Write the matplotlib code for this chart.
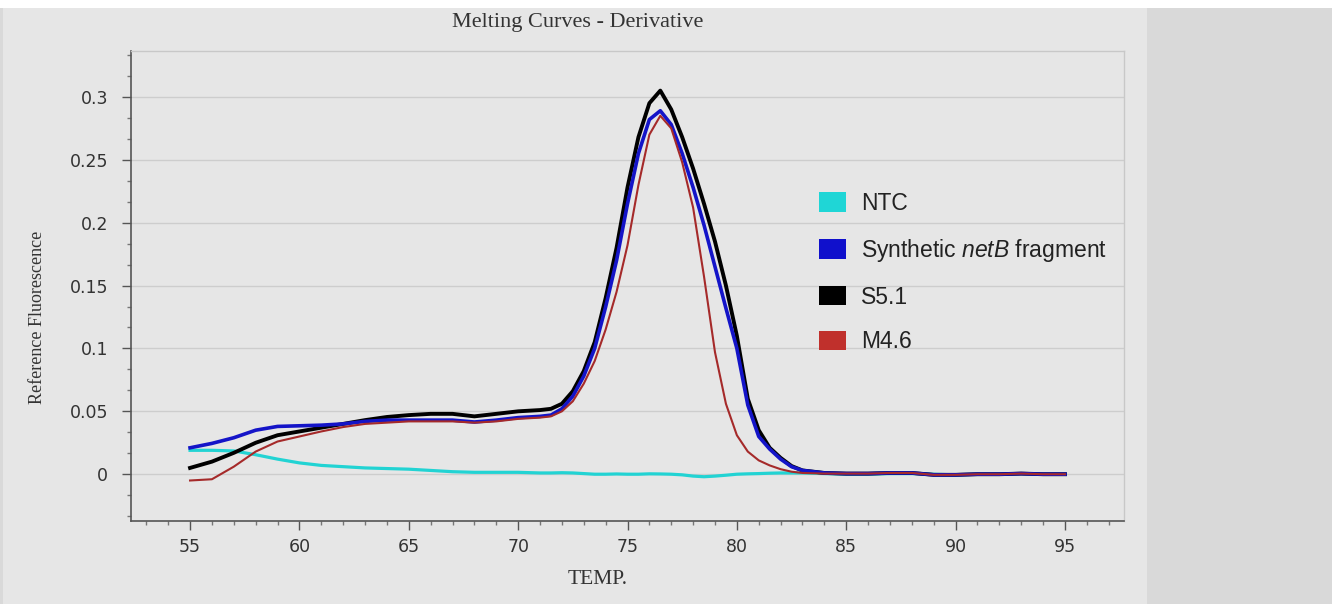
import matplotlib.pyplot as plt
from matplotlib.patches import Patch, Rectangle

plt.rcParams['mathtext.fontset'] = 'custom'
plt.rcParams['mathtext.rm'] = 'Liberation Sans'
plt.rcParams['mathtext.it'] = 'Liberation Sans:italic'

# temperature grid (deg C)
temp = [55, 56, 57, 58, 59, 60, 61, 62, 63, 64, 65, 66, 67, 68, 69, 70, 71, 71.5,
        72, 72.5, 73, 73.5, 74, 74.5, 75, 75.5, 76, 76.5, 77, 77.5, 78, 78.5,
        79, 79.5, 80, 80.5, 81, 81.5, 82, 82.5, 83, 84, 85, 86, 87, 88, 89,
        90, 91, 92, 93, 94, 95]

ntc = [0.019, 0.019, 0.0185, 0.0155, 0.012, 0.009, 0.007, 0.006, 0.005, 0.0045,
       0.004, 0.003, 0.002, 0.0015, 0.0015, 0.0015, 0.001, 0.001,
       0.0012, 0.001, 0.0005, 0.0, 0.0, 0.0002, 0.0, 0.0, 0.0003, 0.0002, 0.0, -0.0005,
       -0.0015, -0.002, -0.0015, -0.0008, 0.0, 0.0003, 0.0005, 0.0008, 0.001, 0.001,
       0.001, 0.0005, 0.0, 0.0, 0.0005, 0.0005, 0.0, -0.0005, 0.0, 0.0, 0.0005, 0.0, 0.0]

netb = [0.021, 0.0245, 0.029, 0.035, 0.038, 0.0385, 0.039, 0.040, 0.042, 0.043,
        0.043, 0.043, 0.043, 0.0415, 0.043, 0.045, 0.046, 0.047,
        0.052, 0.062, 0.078, 0.100, 0.133, 0.170, 0.215, 0.255, 0.282, 0.289, 0.278, 0.255,
        0.228, 0.198, 0.165, 0.132, 0.100, 0.055, 0.030, 0.020, 0.012, 0.006,
        0.003, 0.001, 0.0005, 0.0005, 0.001, 0.001, -0.0005, -0.0005, 0.0, 0.0, 0.0005, 0.0, 0.0]

s51 = [0.005, 0.010, 0.017, 0.025, 0.031, 0.034, 0.037, 0.040, 0.043, 0.0455,
       0.047, 0.048, 0.048, 0.046, 0.048, 0.050, 0.051, 0.052,
       0.056, 0.066, 0.082, 0.105, 0.140, 0.180, 0.228, 0.268, 0.295, 0.305, 0.290, 0.268,
       0.243, 0.215, 0.185, 0.150, 0.110, 0.060, 0.035, 0.021, 0.013, 0.0065,
       0.003, 0.001, 0.0005, 0.0005, 0.001, 0.001, -0.0005, -0.0005, 0.0, 0.0, 0.0005, 0.0, 0.0]

m46 = [-0.005, -0.004, 0.006, 0.018, 0.026, 0.030, 0.034, 0.0375, 0.040, 0.041,
       0.042, 0.042, 0.042, 0.041, 0.042, 0.044, 0.045, 0.046,
       0.050, 0.058, 0.072, 0.090, 0.115, 0.145, 0.182, 0.230, 0.270, 0.285, 0.275, 0.248,
       0.212, 0.157, 0.097, 0.056, 0.031, 0.018, 0.011, 0.007, 0.004, 0.002,
       0.001, 0.0005, 0.0005, 0.0005, 0.001, 0.001, -0.0005, -0.0005, 0.0, 0.0, 0.0005, 0.0, 0.0]

labels = ['NTC', 'Synthetic $\\mathit{netB}$ fragment', 'S5.1', 'M4.6']
line_colors = ['#22d3d3', '#1414c8', '#000000', '#a52a2a']
patch_colors = ['#1fd6d6', '#1010cc', '#000000', '#c0302c']

W, H = 1334, 604
fig = plt.figure(figsize=(W / 100, H / 100), dpi=100, facecolor='white')

# background panels
fig.patches.append(Rectangle((0, 0), 3 / W, 1 - 8 / H, transform=fig.transFigure,
                             facecolor='#d9d9d9', edgecolor='none', zorder=-3))
fig.patches.append(Rectangle((3 / W, 0), 1144 / W, 1 - 8 / H, transform=fig.transFigure,
                             facecolor='#e6e6e6', edgecolor='none', zorder=-3))
fig.patches.append(Rectangle((1147 / W, 0), 185 / W, 1 - 8 / H, transform=fig.transFigure,
                             facecolor='#d9d9d9', edgecolor='none', zorder=-3))

ax = fig.add_axes([131 / W, 1 - 521 / H, (1124 - 131) / W, (521 - 51) / H])
ax.set_facecolor('none')

ax.plot(temp, ntc, color=line_colors[0], lw=2.3, zorder=3)
ax.plot(temp, s51, color=line_colors[2], lw=2.8, zorder=4)
ax.plot(temp, netb, color=line_colors[1], lw=2.6, zorder=5)
ax.plot(temp, m46, color=line_colors[3], lw=1.5, zorder=6)

ax.set_xlim(52.3, 97.7)
ax.set_ylim(-0.0372, 0.3365)
ax.set_xticks(range(55, 96, 5))
ax.set_xticks(range(53, 98), minor=True)
ax.set_yticks([0, 0.05, 0.1, 0.15, 0.2, 0.25, 0.3])
ax.set_yticklabels(['0', '0.05', '0.1', '0.15', '0.2', '0.25', '0.3'])
ax.set_yticks([i * 0.05 / 3 for i in range(-2, 21)], minor=True)

ax.grid(axis='y', which='major', color='#cdcdcd', lw=1)
ax.set_axisbelow(True)
for side in ['top', 'right']:
    ax.spines[side].set_color('#c8c8c8')
    ax.spines[side].set_linewidth(1)
for side in ['left', 'bottom']:
    ax.spines[side].set_color('#555555')
    ax.spines[side].set_linewidth(1.2)

ax.tick_params(which='major', length=6.5, width=1, color='#555555',
               labelsize=12.5, labelcolor='#333333')
ax.tick_params(which='minor', length=3, width=1, color='#777777')
ax.tick_params(axis='y', which='major', pad=10)
ax.tick_params(axis='x', which='major', pad=6)

fig.text(578 / W, 1 - 23 / H, 'Melting Curves - Derivative', family='Liberation Serif',
         fontsize=16, color='#333333', ha='center', va='center')
fig.text(38 / W, 1 - 317 / H, 'Reference Fluorescence', family='Liberation Serif',
         fontsize=13, color='#333333', ha='center', va='center', rotation=90)
fig.text(598 / W, 1 - 580 / H, 'TEMP.', family='Liberation Serif',
         fontsize=15.5, color='#333333', ha='center', va='center')

handles = [Patch(facecolor=c, edgecolor='none') for c in patch_colors]
ax.legend(handles, labels, loc='upper left', bbox_to_anchor=(819 / W, 1 - 192 / H),
          bbox_transform=fig.transFigure, frameon=False, borderpad=0, borderaxespad=0,
          handlelength=1.18, handleheight=0.92, handletextpad=0.66, labelspacing=0.95,
          prop={'family': 'Liberation Sans', 'size': 16.5}, labelcolor='#222222')

fig.savefig('out.png', dpi=100, facecolor='white')
